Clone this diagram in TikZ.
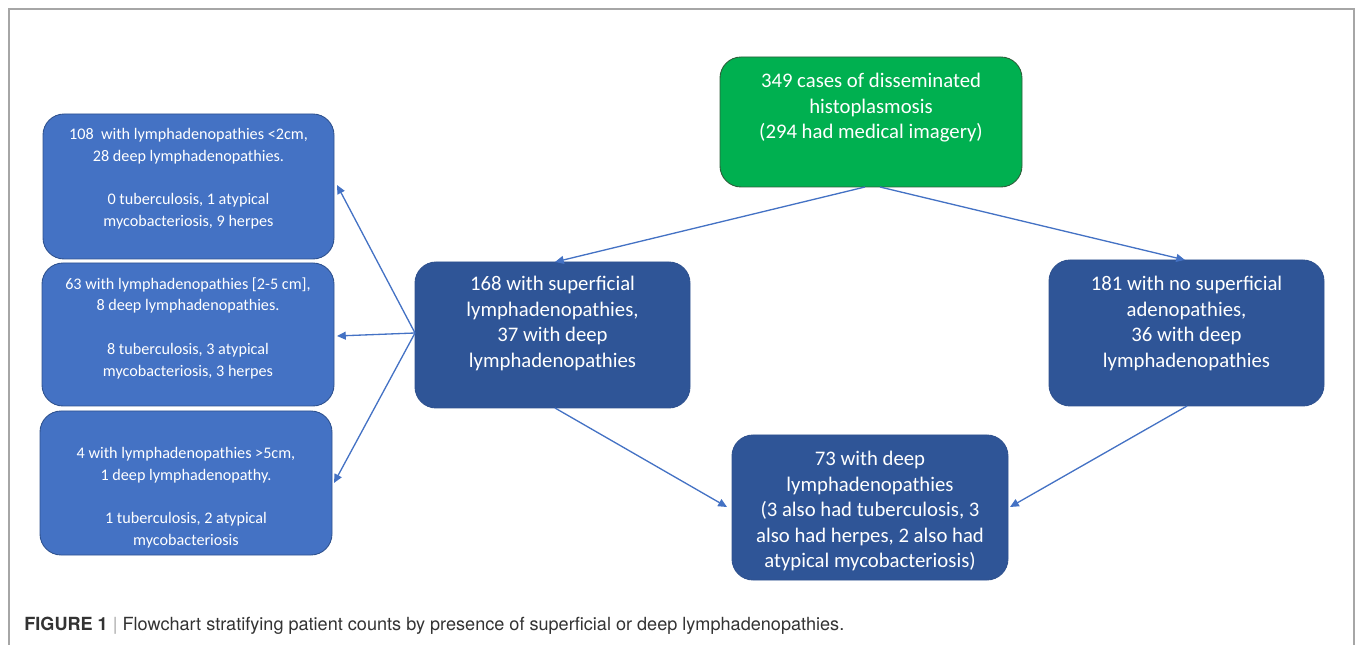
\documentclass[tikz,border=0pt]{standalone}
\usepackage{fontspec}
\setmainfont{Carlito}
\newfontfamily\capfont{TeX Gyre Heros}
\usetikzlibrary{arrows.meta}
\definecolor{lblue}{HTML}{4472C4}
\definecolor{dblue}{HTML}{2F5597}
\definecolor{edgeblue}{HTML}{2F528F}
\definecolor{ggreen}{HTML}{00B050}
\definecolor{gedge}{HTML}{2E5E3A}
\definecolor{framegray}{HTML}{A6A6A6}
\definecolor{captext}{HTML}{333333}
\tikzset{
  box/.style={draw=edgeblue, line width=0.5pt, rounded corners=12pt, inner sep=0pt},
  smallbox/.style={box, fill=lblue},
  bigbox/.style={box, fill=dblue},
  greenbox/.style={box, fill=ggreen, draw=gedge},
  smalltxt/.style={text=white, align=center, font=\fontsize{9.2}{12.4}\selectfont, anchor=north, inner sep=0pt},
  bigtxt/.style={text=white, align=center, font=\fontsize{11.8}{14.5}\selectfont, anchor=north, inner sep=0pt},
  conn/.style={draw=lblue, line width=0.75pt, -{Triangle[length=5pt,width=4.5pt]}},
}
\begin{document}
\begin{tikzpicture}[x=0.02cm, y=-0.02cm]
\useasboundingbox (0,0) rectangle (1357,645);
% frame
\draw[framegray, line width=0.9pt] (9,645) -- (9,9) -- (1354,9) -- (1354,645);
% boxes
\node[greenbox, minimum width=302*0.02cm, minimum height=130*0.02cm] (g) at (871,122) {};
\node[smallbox, minimum width=291*0.02cm, minimum height=145*0.02cm] (l1) at (188.5,186.5) {};
\node[smallbox, minimum width=292*0.02cm, minimum height=143*0.02cm] (l2) at (188,334.5) {};
\node[smallbox, minimum width=292*0.02cm, minimum height=144*0.02cm] (l3) at (186,483) {};
\node[bigbox, minimum width=275*0.02cm, minimum height=146*0.02cm] (m) at (552.5,335) {};
\node[bigbox, minimum width=275*0.02cm, minimum height=146*0.02cm] (r) at (1186.5,333) {};
\node[bigbox, minimum width=276*0.02cm, minimum height=145*0.02cm] (b) at (870,507.5) {};
% texts
\node[bigtxt] (gt) at (871,73) {349 cases of disseminated\\histoplasmosis\\(294 had medical imagery)};
\node[smalltxt] (l1t) at (188.5,128) {108\ \ with lymphadenopathies <2cm,\\28 deep lymphadenopathies.\\[12.4pt]0 tuberculosis, 1 atypical\\mycobacteriosis, 9 herpes};
\node[smalltxt] (l2t) at (188,277) {63 with lymphadenopathies [2-5 cm],\\8 deep lymphadenopathies.\\[12.4pt]8 tuberculosis, 3 atypical\\mycobacteriosis, 3 herpes};
\node[smalltxt] (l3t) at (186,447) {4 with lymphadenopathies >5cm,\\1 deep lymphadenopathy.\\[12.4pt]1 tuberculosis, 2 atypical\\mycobacteriosis};
\node[bigtxt] (mt) at (552.5,276) {168 with superficial\\lymphadenopathies,\\37 with deep\\lymphadenopathies};
\node[bigtxt] (rt) at (1186.5,276) {181 with no superficial\\adenopathies,\\36 with deep\\lymphadenopathies};
\node[bigtxt] (bt) at (870,451) {73 with deep\\lymphadenopathies\\(3 also had tuberculosis, 3\\also had herpes, 2 also had\\atypical mycobacteriosis)};
% connectors
\coordinate (gs1) at (865,187);
\coordinate (gs2) at (880,187);
\coordinate (ms) at (415,333);
\coordinate (mb) at (555,408);
\coordinate (rb) at (1187,406);
\coordinate (l1e) at (337,185);
\coordinate (l2e) at (337,336);
\coordinate (l3e) at (334,483);
\coordinate (bl) at (727,507);
\coordinate (br) at (1010,507);
\coordinate (mn) at (555,262);
\coordinate (rn) at (1185,260);
\draw[conn] (gs1) -- (mn);
\draw[conn] (gs2) -- (rn);
\draw[conn] (ms) -- (l1e);
\draw[conn] (ms) -- (l2e);
\draw[conn] (ms) -- (l3e);
\draw[conn] (mb) -- (bl);
\draw[conn] (rb) -- (br);
% caption
\node[anchor=west, inner sep=0pt, text=captext, font=\capfont\fontsize{10.3}{12}\selectfont] (cap) at (24,626) {\textbf{FIGURE 1} \textcolor{framegray}{|} Flowchart stratifying patient counts by presence of superficial or deep lymphadenopathies.};
\end{tikzpicture}
\end{document}
